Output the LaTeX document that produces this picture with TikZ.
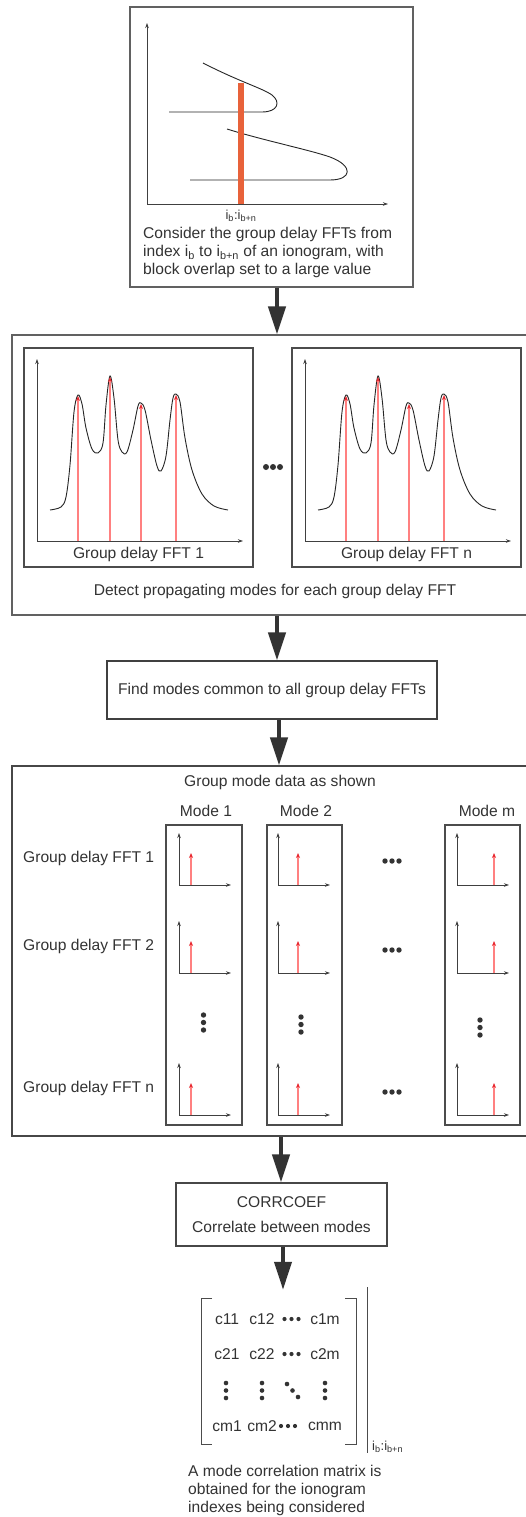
\documentclass[tikz,border=0pt]{standalone}
\usepackage{fontspec}
\setmainfont{Liberation Sans}
\usetikzlibrary{arrows.meta,positioning,calc}
\definecolor{ink}{HTML}{333333}
\definecolor{barorange}{HTML}{E8623A}
\definecolor{peakred}{HTML}{E82830}

\begin{document}
\begin{tikzpicture}[x=1pt,y=-1pt,>=Stealth,font=\fontsize{15.6pt}{17.6pt}\selectfont,text=ink]
\tikzstyle{box}=[draw=black!62,line width=1.1pt,inner sep=0pt]
\tikzstyle{flow}=[draw=ink,line width=4pt,-{Triangle[length=28pt,width=17pt]}]
\tikzstyle{ax}=[draw=black!75,line width=0.8pt,-{Stealth[length=5pt,width=3.5pt]}]
\tikzstyle{pk}=[draw=red!50,line width=1.2pt,-{Stealth[length=5pt,width=4pt,color=peakred]}]
\tikzstyle{lbl}=[inner sep=0pt]
\tikzstyle{idx}=[inner sep=0pt,font=\fontsize{13pt}{14pt}\selectfont]
\useasboundingbox (0,0) rectangle (526,1517);
\fill[white] (0,0) rectangle (526,1517);
\clip (0,0) rectangle (526,1517);

% ionogram
\node[box,minimum width=283,minimum height=280] (iono) at (271.5,147) {};
\draw[ax] (147,204) -- (147,23);
\draw[ax] (147,204) -- (388,204);
\draw[line width=0.9pt,black!85] (203,63) .. controls (240,82) and (262,88) .. (272,95) .. controls (281,102) and (278,112) .. (262,112) -- (169,112);
\draw[line width=0.9pt,black!85] (227,129) .. controls (262,140) and (310,150) .. (330,157) .. controls (354,166) and (352,180) .. (330,180) -- (190,180);
\fill[barorange] (238,83) rectangle (244,204);
\node[idx] (ionoidx) at (241,216) {i\textsubscript{b}:i\textsubscript{b+n}};
\node[lbl,align=left,anchor=west] (ionotxt) at (143,252.5) {Consider the group delay FFTs from\\ index i\textsubscript{b} to i\textsubscript{b+n} of an ionogram, with\\ block overlap set to a large value};

% detect modes
\node[box,minimum width=518,minimum height=280] (detect) at (271,475) {};
\foreach \dx/\nm/\k in {0/p1/1,268/pn/n} {
  \begin{scope}[xshift=\dx]
  \node[box,draw=black!70,minimum width=229,minimum height=219] (\nm) at (138.5,457.5) {};
  \draw[ax] (37,541) -- (37,359);
  \draw[ax] (37,541) -- (243,541);
  \draw[line width=0.9pt,black!85] plot[smooth,tension=0.55] coordinates {(50,510) (61,507) (66,497) (70,465) (74,412) (78,395) (82,404) (86,428) (92,449) (98,453) (103,443) (106,405) (110,376) (114,398) (118,440) (122,452) (127,452) (133,430) (138,406) (141,403) (145,410) (151,440) (157,466) (161,471) (166,456) (170,420) (173,398) (176,394) (180,402) (185,438) (192,470) (202,494) (214,506) (228,510)};
  \foreach \px/\py in {78/395,110/376,141/403,176/394}
    \draw[pk] (\px,541) -- (\px,\py+1);
  \node[lbl] (\nm lab) at (138.5,554) {Group delay FFT \k};
  \end{scope}
}
\foreach \x in {266,273,280} \fill[ink] (\x,467) circle (3pt);
\node[lbl] (detecttxt) at (275,591) {Detect propagating modes for each group delay FFT};

% common modes
\node[box,draw=black!75,minimum width=330,minimum height=58] (common) at (272,690) {Find modes common to all group delay FFTs};

% group mode data
\node[box,draw=black!72,minimum width=518,minimum height=370] (group) at (271,951) {};
\node[lbl] (grouptxt) at (280,782) {Group mode data as shown};
\node[box,draw=black!70,minimum width=76,minimum height=300] (m1) at (204,975) {};
\node[box,draw=black!70,minimum width=75,minimum height=300] (m2) at (304.5,975) {};
\node[box,draw=black!70,minimum width=75,minimum height=300] (mm) at (482.5,975) {};
\node[lbl] (m1lab) at (206,811) {Mode 1};
\node[lbl] (m2lab) at (306,811) {Mode 2};
\node[lbl] (mmlab) at (487,811) {Mode m};
\node[lbl,anchor=west] (row1) at (23,858) {Group delay FFT 1};
\node[lbl,anchor=west] (row2) at (23,946) {Group delay FFT 2};
\node[lbl,anchor=west] (rown) at (23,1088) {Group delay FFT n};
\foreach \ax/\rx in {179/191,278/298,457/494}
  \foreach \by in {885,973,1115} {
    \draw[ax] (\ax,\by) -- (\ax,\by-52);
    \draw[ax] (\ax,\by) -- (\ax+52,\by);
    \draw[pk] (\rx,\by) -- (\rx,\by-32);
  }
\foreach \x/\y in {203.5/1015,301/1017,480/1020}
  \foreach \s in {0,7.5,15} \fill[ink] (\x,\y+\s) circle (2.7pt);
\foreach \y in {861,950,1092}
  \foreach \x in {385,392,399} \fill[ink] (\x,\y) circle (2.7pt);

% correlate
\node[box,draw=black!72,minimum width=211,minimum height=63,align=center] (corr) at (281.5,1214.5) {CORRCOEF\\[7pt]Correlate between modes};

% correlation matrix
\node[inner sep=0pt,minimum width=155,minimum height=154] (cmat) at (278.5,1367) {};
\draw[black!70,line width=1pt] (212,1298) -- (201,1298) -- (201,1444) -- (212,1444);
\draw[black!70,line width=1pt] (345,1298) -- (356,1298) -- (356,1444) -- (345,1444);
\draw[black!70,line width=1pt] (367,1287) -- (367,1453);
\node[idx,anchor=west] (cmatidx) at (372,1447) {i\textsubscript{b}:i\textsubscript{b+n}};
\foreach \a/\b/\c/\y/\d in {11/12/1m/1319/291.5,21/22/2m/1354/291.5,m1/m2/mm/1426/288} {
  \node[lbl] (c\a) at (227,\y) {c\a};
  \node[lbl] (c\b) at (262,\y) {c\b};
  \node[lbl] (c\c) at (325,\y) {c\c};
  \foreach \s in {-7,0,7} \fill[ink] (\d+\s,\y) circle (2.1pt);
}
\foreach \x in {226,262,325}
  \foreach \y in {1383,1390.5,1398} \fill[ink] (\x,\y) circle (2.3pt);
\foreach \x/\y in {287/1384,292.5/1390.5,298/1397} \fill[ink] (\x,\y) circle (2.3pt);
\node[lbl,align=left,anchor=west] (cmattxt) at (188,1490.5) {A mode correlation matrix is\\ obtained for the ionogram\\ indexes being considered};

% flow
\draw[flow] ([xshift=5.5pt]iono.south) -- ([xshift=5.5pt]iono.south |- detect.north);
\draw[flow] ([xshift=6pt]detect.south) -- ([xshift=6pt]detect.south |- common.north);
\draw[flow] ([xshift=7pt]common.south) -- ([xshift=7pt]common.south |- group.north);
\draw[flow] ([xshift=10pt]group.south) -- ([xshift=10pt]group.south |- corr.north);
\draw[flow] ([xshift=1.5pt]corr.south) -- ([xshift=1.5pt]corr.south |- cmat.north);
\end{tikzpicture}
\end{document}
